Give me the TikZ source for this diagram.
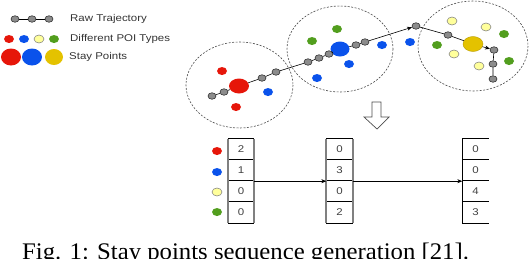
\documentclass[tikz,border=0pt]{standalone}
\usepackage{fontspec}
\usetikzlibrary{shapes.geometric,arrows.meta}
\newfontfamily\figfont[FakeStretch=1.17]{Liberation Sans}
\newfontfamily\capfont[FakeStretch=1.04]{Liberation Serif}
\definecolor{poired}{RGB}{230,22,10}
\definecolor{poiblue}{RGB}{10,82,235}
\definecolor{poiyellow}{RGB}{255,255,155}
\definecolor{poigreen}{RGB}{82,158,30}
\definecolor{stayyellow}{RGB}{228,194,0}
\definecolor{trajgray}{RGB}{140,140,140}
\tikzset{
  traj/.style={ellipse, draw=black!85, fill=trajgray, line width=0.6pt, inner sep=0pt, minimum width=8pt, minimum height=6.5pt},
  poi/.style={ellipse, inner sep=0pt, minimum width=10pt, minimum height=8pt},
  stay/.style={ellipse, inner sep=0pt, minimum width=20pt, minimum height=15pt},
  redpoi/.style={poi, fill=poired},
  bluepoi/.style={poi, fill=poiblue},
  yellowpoi/.style={poi, fill=poiyellow, draw=black!50, line width=0.5pt},
  greenpoi/.style={poi, fill=poigreen},
  region/.style={draw=black!70, dash pattern=on 2pt off 1.5pt, line width=0.6pt},
  link/.style={draw=black, line width=0.6pt},
  moveto/.style={link, -{Stealth[length=5pt, width=4pt]}},
  legtext/.style={anchor=west, inner sep=0pt, font=\figfont\fontsize{9.8}{11}\selectfont, text=black!80},
  cell/.style={rectangle, inner sep=0pt, minimum width=26pt, minimum height=21pt, font=\figfont\fontsize{9.8}{11}\selectfont, text=black!75},
  rowline/.style={draw=black, line width=0.9pt},
  colline/.style={draw=black!50, line width=2pt}
}
\begin{document}
\begin{tikzpicture}[x=1pt, y=1pt, yscale=-1]
  \useasboundingbox (0,0) rectangle (530,258);

  % legend
  \node[traj] (l1) at (15,19) {};
  \node[traj] (l2) at (32,19) {};
  \node[traj] (l3) at (49,19) {};
  \draw[link] (l1) -- (l2) -- (l3);
  \node[legtext] (ltraj) at (70,19) {Raw Trajectory};
  \node[redpoi] (lp1) at (9,39) {};
  \node[bluepoi] (lp2) at (24,39) {};
  \node[yellowpoi] (lp3) at (39,39) {};
  \node[greenpoi] (lp4) at (54,39) {};
  \node[legtext] (lpoi) at (70,39) {Different POI Types};
  \node[stay, fill=poired, minimum height=17pt] (ls1) at (11,57) {};
  \node[stay, fill=poiblue, minimum height=17pt] (ls2) at (32,57) {};
  \node[stay, fill=stayyellow, minimum width=18pt, minimum height=16pt] (ls3) at (54,57) {};
  \node[legtext] (lstay) at (69,57) {Stay Points};

  % regions
  \draw[region] (239.5,85) ellipse [x radius=53.5, y radius=43];
  \draw[region] (340,49) ellipse [x radius=53, y radius=43];
  \draw[region] (473,46) ellipse [x radius=55, y radius=45];

  % first region
  \node[redpoi] (r1) at (222,71) {};
  \node[redpoi] (r2) at (236,107) {};
  \node[bluepoi] (b1) at (268,92) {};
  \node[stay, fill=poired] (s1) at (239,86) {};
  \node[traj] (p1) at (212,96) {};
  \node[traj] (p2) at (224,92) {};
  \node[traj] (p3) at (262,78) {};
  \node[traj] (p4) at (276,72) {};

  % second region
  \node[greenpoi] (g1) at (337,29) {};
  \node[greenpoi] (g2) at (312,41) {};
  \node[bluepoi] (b2) at (382,45) {};
  \node[bluepoi] (b3) at (349,64) {};
  \node[bluepoi] (b4) at (317,78) {};
  \node[bluepoi] (b5) at (410,42) {};
  \node[stay, fill=poiblue, minimum width=19pt] (s2) at (340,49) {};
  \node[traj] (p5) at (308,62) {};
  \node[traj] (p6) at (319,58) {};
  \node[traj] (p7) at (329,54) {};
  \node[traj] (p8) at (356,45) {};
  \node[traj] (p9) at (365,42) {};

  % third region
  \node[yellowpoi] (y1) at (452,21) {};
  \node[yellowpoi] (y2) at (486,27) {};
  \node[yellowpoi] (y3) at (454,54) {};
  \node[yellowpoi] (y4) at (479,66) {};
  \node[greenpoi] (g3) at (437,45) {};
  \node[greenpoi] (g4) at (504,34) {};
  \node[greenpoi] (g5) at (509,61) {};
  \node[stay, fill=stayyellow, draw=stayyellow!80!black, line width=0.4pt] (s3) at (473,44) {};
  \node[traj] (p10) at (416,26) {};
  \node[traj] (p11) at (448,35) {};
  \node[traj] (p12) at (494,50) {};
  \node[traj] (p13) at (493,64) {};
  \node[traj] (p14) at (493,79) {};

  \draw[link] (p1) -- (p2) -- (s1) -- (p3) -- (p4) -- (p5) -- (p6) -- (p7) -- (s2) -- (p8) -- (p9);
  \draw[moveto] (p9) -- (p10);
  \draw[link] (p10) -- (p11) -- (s3);
  \draw[moveto] (s3) -- (p12);
  \draw[link] (p12) -- (p13) -- (p14);

  % down arrow
  \draw[draw=black!70, line width=0.7pt] (372,102) -- (381,102) -- (381,117) -- (389,117) -- (377,129) -- (364,117) -- (372,117) -- cycle;

  % sequence tables
  \foreach \v [count=\i] in {2,1,0,0} \node[cell] (a\i) at (241,{128.5+21*\i}) {\v};
  \foreach \v [count=\i] in {0,3,0,2} \node[cell] (b\i) at (339.5,{128.5+21*\i}) {\v};
  \foreach \v [count=\i] in {0,0,4,3} \node[cell] (c\i) at (475.5,{128.5+21*\i}) {\v};
  \foreach \t in {a,b,c} {
    \foreach \i in {1,...,4} \draw[rowline] (\t\i.north west) -- (\t\i.north east);
    \draw[rowline] (\t4.south west) -- (\t4.south east);
  }
  \draw[colline] (a1.north west) -- (a4.south west);
  \draw[colline] (a1.north east) -- (a4.south east);
  \draw[colline] (b1.north west) -- (b4.south west);
  \draw[colline] (b1.north east) -- (b4.south east);
  \draw[draw=black, line width=1pt] (c1.north west) -- (c4.south west);
  \node[redpoi] (k1) at (217,151) {};
  \node[bluepoi] (k2) at (217,172) {};
  \node[yellowpoi] (k3) at (217,192) {};
  \node[greenpoi] (k4) at (217,212) {};
  \draw[moveto] (a2.south east) -- (b2.south west);
  \draw[moveto] (b2.south east) -- (c2.south west);

  % caption
  \node[anchor=base west, inner sep=0pt, font=\capfont\fontsize{23.8}{26}\selectfont] (caption) at (22,259.5) {Fig. 1: Stay points sequence generation [21].};
\end{tikzpicture}
\end{document}
